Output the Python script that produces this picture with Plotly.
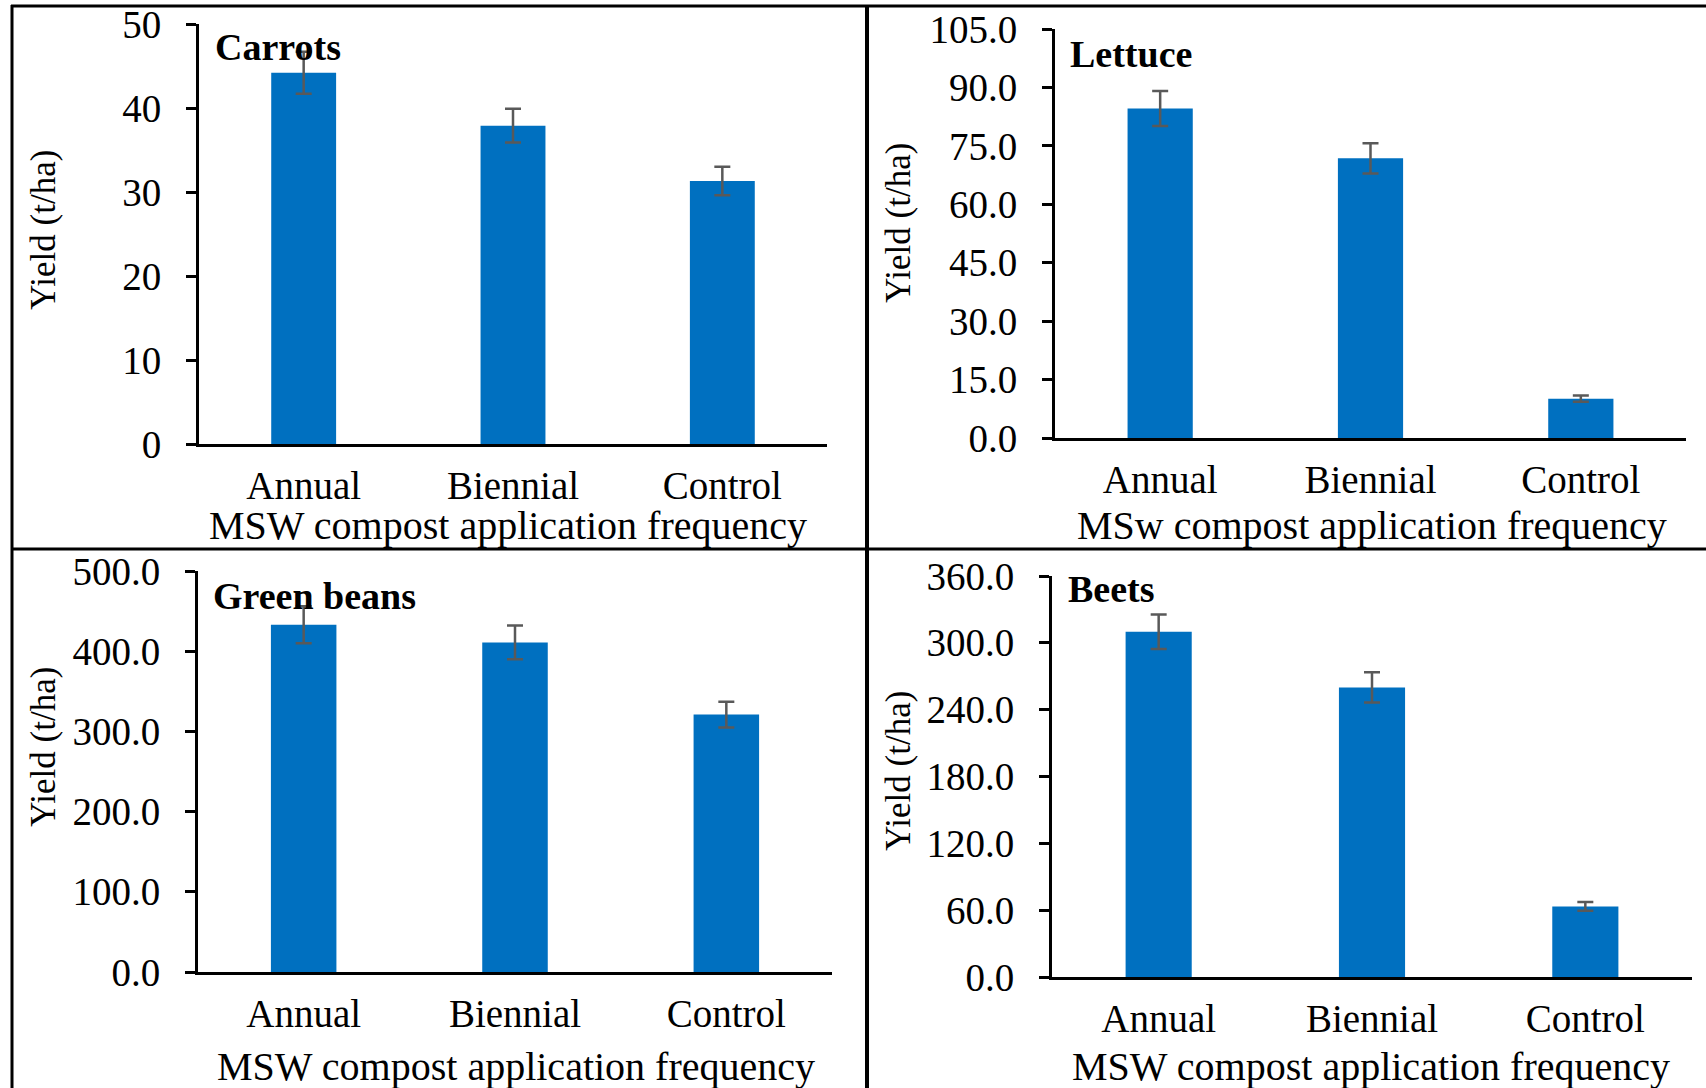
import plotly.graph_objects as go

W, H = 1706, 1088

categories = ["Annual", "Biennial", "Control"]

carrots = [44.2, 37.9, 31.3]
carrots_err = [2.5, 2.0, 1.7]
lettuce = [84.6, 71.8, 10.1]
lettuce_err = [4.5, 3.9, 0.8]
beans = [433.0, 411.0, 321.0]
beans_err = [23.0, 21.0, 16.0]
beets = [310.0, 260.0, 63.4]
beets_err = [15.5, 13.5, 4.0]

titles = ["Carrots", "Lettuce", "Green beans", "Beets"]
xtitles = ["MSW compost application frequency", "MSw compost application frequency",
           "MSW compost application frequency", "MSW compost application frequency"]
ytitle = "Yield (t/ha)"
yranges = [[0, 50], [0, 105], [0, 500], [0, 360]]
ydticks = [10, 15, 100, 60]
yformats = ["d", ".1f", ".1f", ".1f"]

series = [(carrots, carrots_err), (lettuce, lettuce_err), (beans, beans_err), (beets, beets_err)]

# panel pixel boxes: (x0, x1, ytop, ybottom)
boxes = [(199, 827, 24, 444), (1055, 1686, 29, 438), (198, 832, 571, 972), (1052, 1692, 576, 977)]
ytitle_pos = [(43, 230), (898, 223), (43, 747), (898, 771)]
xtitle_pos = [(508, 525), (1372, 525), (516, 1066), (1371, 1066)]
title_pos = [(213, 47), (1068, 54), (211, 596), (1066, 589)]

FONT = "Liberation Serif, Times New Roman, serif"

def px(x):
    return x / W

def py(y):
    return 1 - y / H

fig = go.Figure()
layout = dict(
    template="none",
    width=W, height=H, margin=dict(l=0, r=0, t=0, b=0, pad=0), autosize=False,
    paper_bgcolor="white", plot_bgcolor="white", showlegend=False,
    font=dict(family=FONT, color="black"),
)
annotations = []
for i, ((vals, errs), box) in enumerate(zip(series, boxes)):
    n = "" if i == 0 else str(i + 1)
    fig.add_trace(go.Bar(
        x=categories, y=vals, width=0.31,
        marker=dict(color="#0070C0", line=dict(width=0)),
        error_y=dict(type="data", array=errs, visible=True, color="#595959", thickness=2.5, width=8),
        xaxis="x" + n, yaxis="y" + n,
    ))
    x0, x1, yt, yb = box
    layout["xaxis" + n] = dict(
        domain=[px(x0), px(x1)], anchor="y" + n, showgrid=False, zeroline=False,
        showline=True, linecolor="black", linewidth=3, ticks="", automargin=False,
        tickfont=dict(family=FONT, size=39, color="black"), ticklabelstandoff=5,
        fixedrange=True,
    )
    layout["yaxis" + n] = dict(
        domain=[py(yb), py(yt)], anchor="x" + n, range=yranges[i], dtick=ydticks[i], tick0=0,
        tickformat=yformats[i], showgrid=False, zeroline=False, automargin=False,
        showline=True, linecolor="black", linewidth=3, ticks="outside", ticklen=10,
        tickwidth=3, tickcolor="black",
        tickfont=dict(family=FONT, size=39, color="black"), ticklabelstandoff=17,
        fixedrange=True,
    )
    annotations.append(dict(text=ytitle, x=px(ytitle_pos[i][0]), y=py(ytitle_pos[i][1]),
                            xref="paper", yref="paper", textangle=-90, showarrow=False,
                            font=dict(family=FONT, size=35, color="black"),
                            xanchor="center", yanchor="middle"))
    annotations.append(dict(text=xtitles[i], x=px(xtitle_pos[i][0]), y=py(xtitle_pos[i][1]),
                            xref="paper", yref="paper", showarrow=False,
                            font=dict(family=FONT, size=40, color="black"),
                            xanchor="center", yanchor="middle"))
    annotations.append(dict(text="<b>" + titles[i] + "</b>", x=px(title_pos[i][0]), y=py(title_pos[i][1]),
                            xref="paper", yref="paper", showarrow=False,
                            font=dict(family=FONT, size=38, color="black"),
                            xanchor="left", yanchor="middle"))

shapes = [
    dict(type="line", xref="paper", yref="paper", x0=px(12), x1=px(12), y0=py(5), y1=0,
         line=dict(color="black", width=3)),
    dict(type="line", xref="paper", yref="paper", x0=px(11), x1=1, y0=py(6), y1=py(6),
         line=dict(color="black", width=3)),
    dict(type="line", xref="paper", yref="paper", x0=px(867), x1=px(867), y0=py(5), y1=0,
         line=dict(color="black", width=4)),
    dict(type="line", xref="paper", yref="paper", x0=px(12), x1=1, y0=py(549), y1=py(549),
         line=dict(color="black", width=3)),
]
layout["annotations"] = annotations
layout["shapes"] = shapes
fig.update_layout(**layout)
fig.write_html("out.html")
